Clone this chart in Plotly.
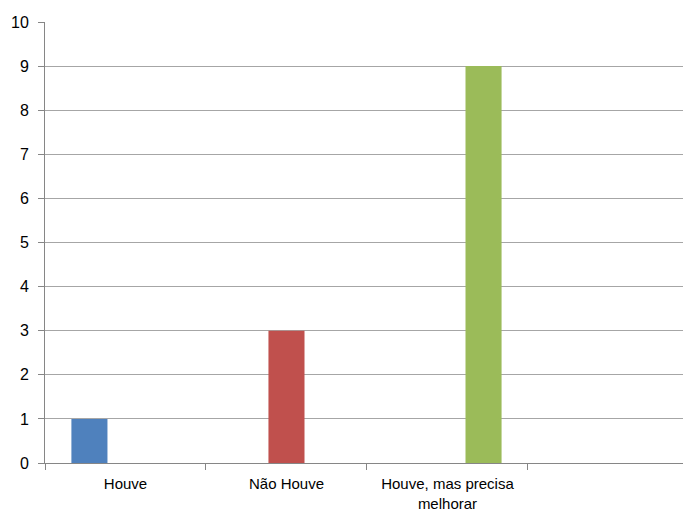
import plotly.graph_objects as go

categories = ["Houve", "Não Houve", "Houve, mas precisa<br>melhorar", " "]
series_names = ["Houve", "Não Houve", "Houve, mas precisa melhorar"]
series_values = [1, 3, 9]
series_colors = ["#4F81BD", "#C0504D", "#9BBB59"]
y_ticks = list(range(0, 11))

bar_w = 0.224
fig = go.Figure()
for i, (name, val, col) in enumerate(zip(series_names, series_values, series_colors)):
    fig.add_trace(go.Bar(x=[categories[i]], y=[val], name=name, marker_color=col,
                         marker_line_width=0, showlegend=False,
                         width=bar_w, offset=-1.5 * bar_w + i * bar_w))
# invisible trace to keep the empty fourth category
fig.add_trace(go.Scatter(x=[categories[3]], y=[0], mode="none", showlegend=False, hoverinfo="skip"))

fig.update_layout(
    width=683, height=513,
    margin=dict(l=45, r=0, t=22, b=50),
    paper_bgcolor="white", plot_bgcolor="white",
    barmode="overlay",
    font=dict(family="Liberation Sans, Arial, sans-serif", size=13, color="#000000"),
    xaxis=dict(
        type="category", categoryorder="array", categoryarray=categories,
        range=[-0.5, 3.463], tickson="boundaries", ticks="outside", ticklen=6,
        tickcolor="#868686", showline=True, linecolor="#868686", linewidth=1,
        showgrid=False, tickfont=dict(size=15), ticklabelstandoff=7,
        automargin=False,
    ),
    yaxis=dict(
        range=[0, 10], tickvals=y_ticks, ticks="outside", ticklen=6,
        tickcolor="#868686", showline=True, linecolor="#868686", linewidth=1,
        showgrid=True, gridcolor="#A6A6A6", gridwidth=1, zeroline=False,
        tickfont=dict(size=16), ticklabelstandoff=6, automargin=False,
    ),
    annotations=[dict(text="Q", xref="paper", yref="paper", x=(417 - 45) / 638, y=1.05,
                      xanchor="center", yanchor="bottom", showarrow=False,
                      font=dict(family="Liberation Serif, serif", size=22, color="#000000"))],
)

fig.write_html("out.html")
